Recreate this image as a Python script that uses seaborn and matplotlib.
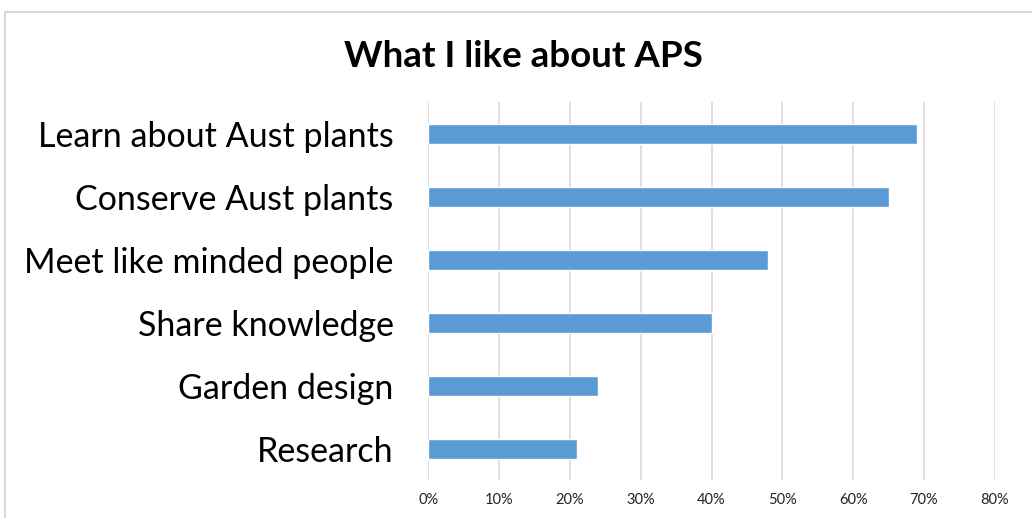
import matplotlib
matplotlib.use("Agg")
import matplotlib.pyplot as plt
import seaborn as sns
import pandas as pd
from matplotlib.patches import Rectangle
from matplotlib.ticker import FuncFormatter

categories = ["Learn about Aust plants", "Conserve Aust plants", "Meet like minded people",
              "Share knowledge", "Garden design", "Research"]
values = [69, 65, 48, 40, 24, 21]
xticks = [0, 10, 20, 30, 40, 50, 60, 70, 80]
title = "What I like about APS"

sns.set_theme(style="white")
plt.rcParams['font.family'] = ['Lato', 'DejaVu Sans']

df = pd.DataFrame({"cat": categories, "val": values})

fig = plt.figure(figsize=(10.32, 5.18), dpi=100)
ax = fig.add_axes([0.415, 0.0724, 0.549, 0.7298])
sns.barplot(data=df, y="cat", x="val", orient="h", color="#5B9BD5", saturation=1,
            width=0.32, ax=ax)

ax.set_xlim(0, 80)
ax.set_xticks(xticks)
ax.xaxis.set_major_formatter(FuncFormatter(lambda v, p: f"{int(v)}%"))
ax.grid(axis="x", color="#D9D9D9", linewidth=1.2)
ax.grid(axis="y", visible=False)
ax.set_axisbelow(True)
for s in ax.spines.values():
    s.set_visible(False)
ax.set_xlabel("")
ax.set_ylabel("")
ax.tick_params(axis="y", labelsize=24.5, pad=25, length=0, labelcolor="#000000")
ax.tick_params(axis="x", labelsize=10.5, pad=9, length=0, labelcolor="#222222")

fig.text(0.507, 0.89, title, ha="center", va="center", fontsize=26.5, fontweight="bold",
         color="#000000")
fig.patches.append(Rectangle((0.005, -0.01), 1.0, 0.986, transform=fig.transFigure,
                             fill=False, edgecolor="#D0D0D0", linewidth=1.2))

fig.savefig("out.png", dpi=100)
